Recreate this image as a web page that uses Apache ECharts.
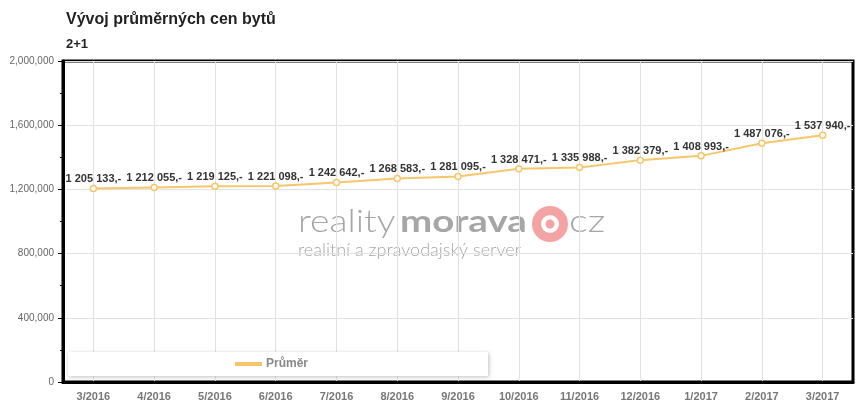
<!DOCTYPE html>
<html><head><meta charset="utf-8">
<script src="https://cdn.jsdelivr.net/npm/echarts@6/dist/echarts.min.js"></script>
<style>html,body{margin:0;padding:0;background:#fff}#c{width:860px;height:413px}</style>
</head><body><div id="c"></div>
<script>
const categories = ['3/2016','4/2016','5/2016','6/2016','7/2016','8/2016','9/2016','10/2016','11/2016','12/2016','1/2017','2/2017','3/2017'];
const prumer = [1205133,1212055,1219125,1221098,1242642,1268583,1281095,1328471,1335988,1382379,1408993,1487076,1537940];
const yTicks = [0,400000,800000,1200000,1600000,2000000];

const chart = echarts.init(document.getElementById('c'), null, {renderer:'canvas'});
const fmtSpace = v => String(v).replace(/\B(?=(\d{3})+(?!\d))/g,' ') + ',-';
const fmtComma = v => String(v).replace(/\B(?=(\d{3})+(?!\d))/g,',');
const FF = 'Liberation Sans, Arial, sans-serif';
const WF = 'Lato, Liberation Sans, sans-serif';
chart.setOption({
  animation:false,
  title:[
    {text:'Vývoj průměrných cen bytů', left:61, top:7, textStyle:{fontFamily:FF,fontSize:16,fontWeight:'bold',color:'#222'}},
    {text:'2+1', left:61, top:33, textStyle:{fontFamily:FF,fontSize:13,fontWeight:'bold',color:'#222'}}
  ],
  grid:{left:63,right:7,top:61,bottom:31,show:true,borderColor:'#000',borderWidth:3,backgroundColor:'transparent'},
  legend:{
    left:68, bottom:37, orient:'horizontal',
    backgroundColor:'#fff', shadowBlur:4, shadowColor:'rgba(0,0,0,0.25)', shadowOffsetX:1, shadowOffsetY:1,
    padding:[6,180,6,167], itemWidth:25, itemHeight:2, itemGap:10,
    icon:'rect',
    textStyle:{fontFamily:FF,fontSize:12,fontWeight:'bold',color:'#888'},
    data:['Průměr']
  },
  xAxis:{
    type:'category', data:categories, boundaryGap:true,
    axisLine:{show:true,lineStyle:{color:'#000',width:3}},
    axisTick:{show:false,alignWithLabel:true},
    splitLine:{show:true,alignWithLabel:true,lineStyle:{color:'#e2e2e2',width:1}},
    axisLabel:{fontFamily:FF,fontSize:11,fontWeight:'bold',color:'#777',margin:9}
  },
  yAxis:{
    type:'value', min:0, max:2000000, interval:400000,
    axisLine:{show:true,lineStyle:{color:'#000',width:3}},
    axisTick:{show:true,length:5,lineStyle:{color:'#000',width:1}},
    minorTick:{show:true,splitNumber:2,length:3,lineStyle:{color:'#000',width:1}},
    splitLine:{show:true,lineStyle:{color:'#e2e2e2',width:1}},
    axisLabel:{fontFamily:FF,fontSize:10,color:'#666',margin:9,formatter:v=>fmtComma(v)}
  },
  graphic:[
    {type:'text', x:298, y:206, scaleX:1.2, z:0, style:{text:'reality', font:'300 31px '+WF, fill:'#a6a6a6'}},
    {type:'text', x:400, y:206, scaleX:1.24, z:0, style:{text:'morava', font:'bold 31px '+WF, fill:'#a6a6a6'}},
    {type:'circle', z:0, shape:{cx:550,cy:224,r:18}, style:{fill:'#f3a3a3'}},
    {type:'circle', z:0, shape:{cx:550,cy:224,r:9}, style:{fill:'#fff'}},
    {type:'circle', z:0, shape:{cx:550,cy:224,r:4.5}, style:{fill:'#f3a3a3'}},
    {type:'text', x:569, y:206, scaleX:1.28, z:0, style:{text:'cz', font:'300 31px '+WF, fill:'#a6a6a6'}},
    {type:'text', x:298, y:242, scaleX:1.06, z:0, style:{text:'realitní a zpravodajský server', font:'300 17px '+WF, fill:'#a6a6a6'}}
  ],
  series:[{
    name:'Průměr', type:'line', data:prumer,
    color:'#f7c66b',
    lineStyle:{width:2,color:'#f7c66b'},
    symbol:'circle', symbolSize:6, showSymbol:true,
    itemStyle:{color:'#fff',borderColor:'#f7c66b',borderWidth:1.5},
    label:{show:true,position:'top',distance:0,fontFamily:FF,fontSize:11,fontWeight:'bold',color:'#333',formatter:p=>fmtSpace(p.value)},
    z:3
  }]
});
</script></body></html>
